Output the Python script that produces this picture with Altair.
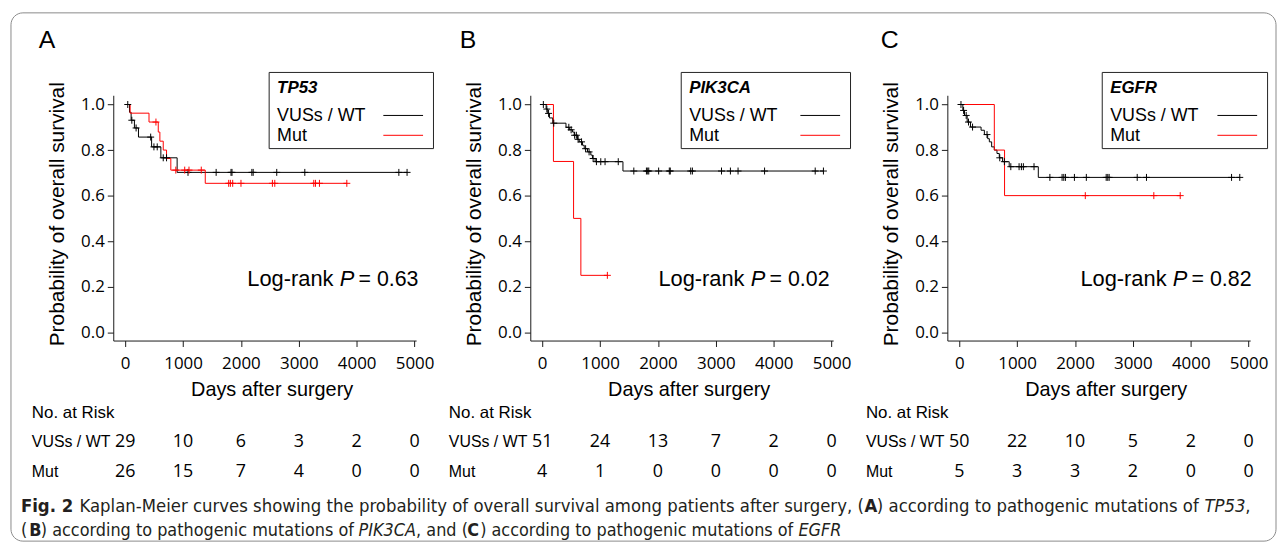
import altair as alt
import pandas as pd

# ------------------------------------------------------------------ data
panel_letters = ["A", "B", "C"]
gene_names = ["TP53", "PIK3CA", "EGFR"]
logrank_p = ["0.63", "0.02", "0.82"]
group_names = ["VUSs / WT", "Mut"]
risk_days = [0, 1000, 2000, 3000, 4000, 5000]
x_tick_values = [0, 1000, 2000, 3000, 4000, 5000]
y_tick_values = [0.0, 0.2, 0.4, 0.6, 0.8, 1.0]

# Panel A - TP53
a_wt_days = [0, 75, 103, 160, 230, 457, 617, 898]
a_wt_surv = [1.0, 0.966, 0.931, 0.897, 0.857, 0.814, 0.766, 0.702]
a_wt_cens = [45, 115, 189, 441, 497, 554, 658, 715, 1086, 1572, 1829, 1846,
             2189, 2212, 2619, 3104, 4729, 4871]
a_mut_days = [0, 86, 412, 572, 600, 658, 715, 789, 1384]
a_mut_surv = [1.0, 0.962, 0.923, 0.879, 0.839, 0.800, 0.763, 0.712, 0.654]
a_mut_cens = [532, 875, 1029, 1103, 1315, 1789, 1818, 1858, 2001, 2544, 2585,
              3259, 3288, 3357, 3830]
a_risk_wt = [29, 10, 6, 3, 2, 0]
a_risk_mut = [26, 15, 7, 4, 0, 0]

# Panel B - PIK3CA
b_wt_days = [0, 68, 96, 125, 182, 411, 468, 525, 554, 611, 640, 697, 726, 783,
             840, 868, 914, 1395]
b_wt_surv = [1.0, 0.980, 0.961, 0.941, 0.918, 0.900, 0.889, 0.879, 0.865, 0.847,
             0.836, 0.821, 0.806, 0.792, 0.778, 0.763, 0.749, 0.708]
b_wt_cens = [20, 80, 110, 200, 460, 500, 560, 590, 620, 680, 750, 810, 880, 937,
             1012, 1086, 1314, 1583, 1801, 1823, 1841, 2012, 2196, 2213, 2566,
             2595, 3098, 3252, 3384, 3842, 4717, 4859]
b_mut_days = [0, 194, 542, 668]
b_mut_surv = [1.0, 0.75, 0.50, 0.25]
b_mut_cens = [1126]
b_risk_wt = [51, 24, 13, 7, 2, 0]
b_risk_mut = [4, 1, 0, 0, 0, 0]

# Panel C - EGFR
c_wt_days = [0, 62, 91, 137, 194, 377, 434, 491, 520, 560, 606, 652, 692, 749,
             863, 1366]
c_wt_surv = [1.0, 0.974, 0.952, 0.923, 0.901, 0.887, 0.868, 0.850, 0.836, 0.814,
             0.800, 0.785, 0.766, 0.749, 0.727, 0.680]
c_wt_cens = [30, 75, 120, 160, 230, 480, 700, 780, 891, 1034, 1074, 1108, 1292,
             1566, 1777, 1806, 1835, 1990, 2196, 2539, 2566, 2590, 3075, 3235,
             4705, 4847]
c_mut_days = [0, 606, 783]
c_mut_surv = [1.0, 0.80, 0.60]
c_mut_cens = [2178, 3362, 3818]
c_risk_wt = [50, 22, 10, 5, 2, 0]
c_risk_mut = [5, 3, 3, 2, 0, 0]

caption1_text = ["Fig. 2",
                 "Kaplan-Meier curves showing the probability of overall survival among patients after surgery, (",
                 "A", ") according to pathogenic mutations of", "TP53", ","]
caption1_weight = ["bold", "normal", "bold", "normal", "normal", "normal"]
caption1_style = ["normal", "normal", "normal", "normal", "italic", "normal"]
caption2_text = ["(", "B", ") according to pathogenic mutations of", "PIK3CA",
                 ", and (", "C", ") according to pathogenic mutations of", "EGFR"]
caption2_weight = ["normal", "bold", "normal", "normal", "normal", "bold", "normal", "normal"]
caption2_style = ["normal", "normal", "normal", "italic", "normal", "normal", "normal", "italic"]

# ------------------------------------------------------------------ style / layout
FONT = "Liberation Sans"
NUM_FONT = "Open Sans"
CAP_FONT = "DejaVu Sans Condensed"
CAP_SIZE_1 = 18.5
CAP_SIZE_2 = 18
PLOT_W, PLOT_H = 305, 247
PANEL_X = [113, 533, 953]      # page x of each plot's left edge
PANEL_Y = 93
SPACING = PANEL_X[1] - PANEL_X[0] - PLOT_W

letter_px = [38, 462, 886]
legend_left_px = [270, 685, 1109]
logrank_px = [248, 662, 1087]
caption1_px = [20, 79, 869.5, 882, 1212, 1253]
caption2_px = [20, 28.5, 40, 360, 418, 469.5, 482.5, 803]


def surv_at(days, surv, t):
    val = surv[0]
    for d, s in zip(days, surv):
        if d <= t:
            val = s
    return val


def one(text):
    return pd.DataFrame({"label": [text]})


def txt(text, x, y, size, font=FONT, weight="normal", style="normal",
        align="left", color="black"):
    return alt.Chart(one(text)).mark_text(
        align=align, baseline="alphabetic", font=font, fontSize=size,
        fontWeight=weight, fontStyle=style, color=color
    ).encode(x=alt.value(x), y=alt.value(y), text="label:N")


def make_panel(k, wt_days, wt_surv, wt_cens, mut_days, mut_surv, mut_cens,
               risk_wt, risk_mut):
    ox = PANEL_X[k]

    def rx(px):
        return px - ox

    def ry(py):
        return py - PANEL_Y

    curve_rows, cens_rows = [], []
    for g, days, surv, cens in [(group_names[0], wt_days, wt_surv, wt_cens),
                                (group_names[1], mut_days, mut_surv, mut_cens)]:
        for d, s in zip(days, surv):
            curve_rows.append({"t": d, "s": s, "g": g})
        curve_rows.append({"t": max(cens), "s": surv[-1], "g": g})
        for c in cens:
            cens_rows.append({"t": c, "s": surv_at(days, surv, c), "g": g})
    curve_df = pd.DataFrame(curve_rows)
    cens_df = pd.DataFrame(cens_rows)

    xs = alt.X("t:Q",
               scale=alt.Scale(domain=[-205.7, 5027], nice=False, zero=False),
               axis=alt.Axis(values=x_tick_values, format="d",
                             title="Days after surgery",
                             labelPadding=9, titleX=159.5, titleY=55,
                             titleBaseline="alphabetic", titleAlign="center",
                             titleFontSize=20))
    ys = alt.Y("s:Q",
               scale=alt.Scale(domain=[-0.0362, 1.0405], nice=False, zero=False),
               axis=alt.Axis(values=y_tick_values, format=".1f",
                             title="Probability of overall survival",
                             labelPadding=3, titleX=-50, titleY=119.3,
                             titleAngle=270, titleBaseline="alphabetic",
                             titleAlign="center", titleFontSize=21))
    color = alt.Color("g:N", scale=alt.Scale(domain=group_names,
                                             range=["#000000", "#ff0000"]),
                      legend=None)

    lines = alt.Chart(curve_df).mark_line(
        interpolate="step-after", strokeWidth=1
    ).encode(x=xs, y=ys, color=color, detail="g:N")
    cens = alt.Chart(cens_df).mark_point(
        shape="M-1,0H1M0,-1V1", size=49, filled=False, strokeWidth=1, opacity=1
    ).encode(x=xs, y=ys, color=color)

    risk_wt_df = pd.DataFrame({"t": risk_days, "n": [str(v) for v in risk_wt]})
    risk_mut_df = pd.DataFrame({"t": risk_days, "n": [str(v) for v in risk_mut]})
    risk1 = alt.Chart(risk_wt_df).mark_text(
        align="center", baseline="alphabetic", font=NUM_FONT, fontSize=18,
        color="black").encode(x=xs, y=alt.value(ry(447)), text="n:N")
    risk2 = alt.Chart(risk_mut_df).mark_text(
        align="center", baseline="alphabetic", font=NUM_FONT, fontSize=18,
        color="black").encode(x=xs, y=alt.value(ry(477.3)), text="n:N")

    layers = [lines, cens, risk1, risk2]

    # panel letter
    layers.append(txt(panel_letters[k], rx(letter_px[k]), ry(45), 25))

    # legend box
    lb = legend_left_px[k]
    layers.append(alt.Chart(one("box")).mark_rect(
        fillOpacity=0, stroke="#222222", strokeWidth=1
    ).encode(x=alt.value(rx(lb)), x2=alt.value(322.5),
             y=alt.value(ry(70)), y2=alt.value(ry(146.7))))
    layers.append(txt(gene_names[k], rx(lb + 8), ry(90.7), 17,
                      weight="bold", style="italic"))
    layers.append(txt(group_names[0], rx(lb + 8), ry(119.3), 18))
    layers.append(txt(group_names[1], rx(lb + 8), ry(139.3), 18))
    for yy, colr in [(113.3, "#000000"), (133.3, "#ff0000")]:
        layers.append(alt.Chart(one("l")).mark_rule(
            color=colr, strokeWidth=1
        ).encode(x=alt.value(272), x2=alt.value(312), y=alt.value(ry(yy))))

    # log-rank annotation
    lr = logrank_px[k]
    layers.append(txt("Log-rank", rx(lr), ry(285), 22))
    layers.append(txt("P", rx(lr + 93), ry(285), 22, style="italic"))
    layers.append(txt("= " + logrank_p[k], rx(lr + 112), ry(285), 21.5))

    # number at risk table labels
    layers.append(txt("No. at Risk", -82, ry(418.3), 17))
    layers.append(txt(group_names[0], -82, ry(447), 16))
    layers.append(txt(group_names[1], -82, ry(477.3), 16))

    if k == 0:
        border = alt.Chart(one("border")).mark_rect(
            fillOpacity=0, stroke="#8a8a8a", strokeWidth=1, cornerRadius=12
        ).encode(x=alt.value(rx(10)), x2=alt.value(rx(1284)),
                 y=alt.value(ry(10)), y2=alt.value(ry(542)))
        layers = [border] + layers
        for t, w, s, px in zip(caption1_text, caption1_weight, caption1_style, caption1_px):
            layers.append(txt(t, rx(px), ry(513), CAP_SIZE_1, font=CAP_FONT, weight=w,
                              style=s, color="#231f20"))
        for t, w, s, px in zip(caption2_text, caption2_weight, caption2_style, caption2_px):
            layers.append(txt(t, rx(px), ry(537), CAP_SIZE_2, font=CAP_FONT, weight=w,
                              style=s, color="#231f20"))

    return alt.layer(*layers).properties(width=PLOT_W, height=PLOT_H)


pA = make_panel(0, a_wt_days, a_wt_surv, a_wt_cens, a_mut_days, a_mut_surv,
                a_mut_cens, a_risk_wt, a_risk_mut)
pB = make_panel(1, b_wt_days, b_wt_surv, b_wt_cens, b_mut_days, b_mut_surv,
                b_mut_cens, b_risk_wt, b_risk_mut)
pC = make_panel(2, c_wt_days, c_wt_surv, c_wt_cens, c_mut_days, c_mut_surv,
                c_mut_cens, c_risk_wt, c_risk_mut)

chart = alt.hconcat(pA, pB, pC, spacing=SPACING, bounds="flush").properties(
    padding={"left": 2, "top": 2, "right": 0, "bottom": 0},
    background="white",
).configure_view(stroke=None).configure_axis(
    domainColor="#1a1a1a", tickColor="#1a1a1a", domainWidth=1, tickWidth=1,
    tickSize=6, labelColor="black", titleColor="black", grid=False,
    labelFont=NUM_FONT, labelFontSize=17, titleFont=FONT,
    titleFontWeight="normal",
)

chart.save("out.html", embed_options={"renderer": "svg", "actions": False})
